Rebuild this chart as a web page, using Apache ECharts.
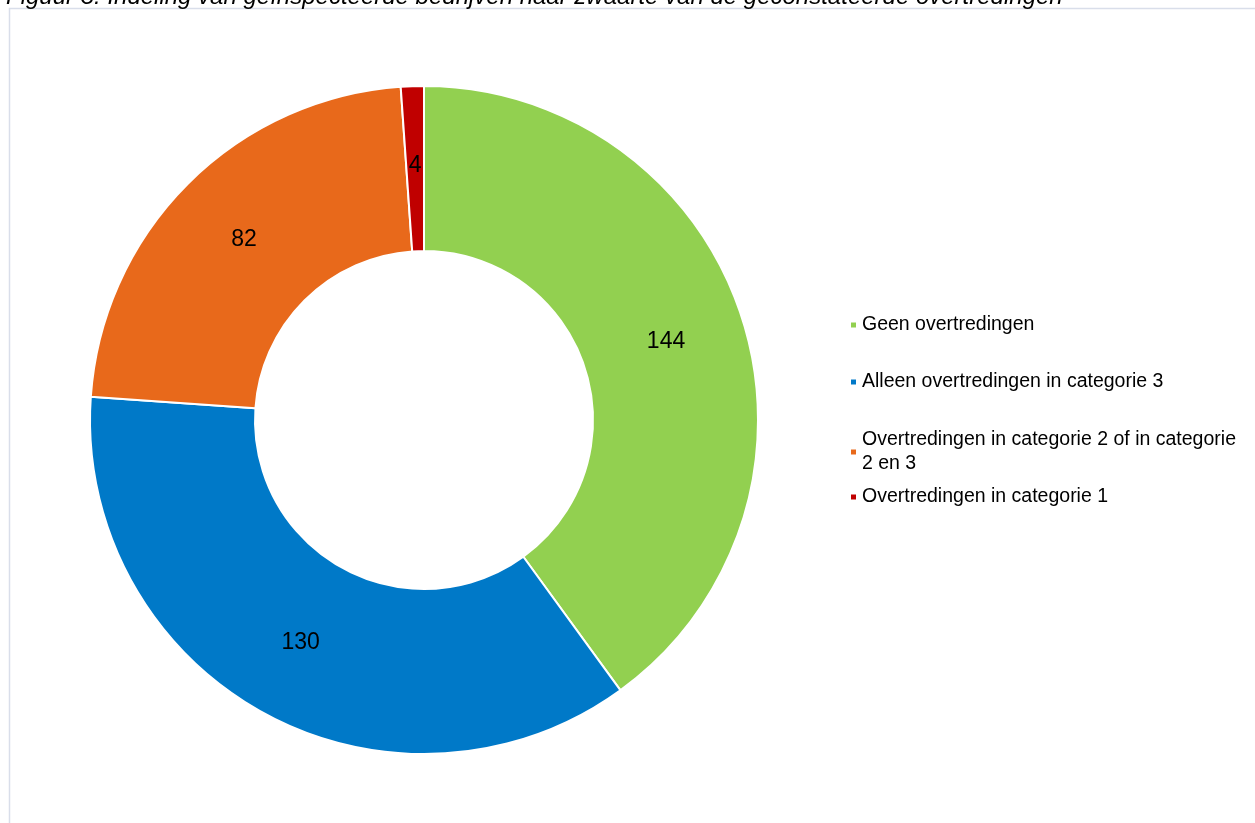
<!DOCTYPE html>
<html>
<head>
<meta charset="utf-8">
<script src="https://cdn.jsdelivr.net/npm/echarts@6/dist/echarts.min.js"></script>
<style>
  html, body { margin: 0; padding: 0; background: #fff; }
  #main { width: 1255px; height: 823px; }
</style>
</head>
<body>
<div id="main"></div>
<script>
// categories and values (degrees add up to 360)
const categories = [
  'Geen overtredingen',
  'Alleen overtredingen in categorie 3',
  'Overtredingen in categorie 2 of in categorie 2 en 3',
  'Overtredingen in categorie 1'
]
const values = [144, 130, 82, 4]
const colors = ['#92D050', '#0079C8', '#E8691B', '#C00000']
const legendTops = [308, 365, 423, 480]

const chart = echarts.init(document.getElementById('main'))

const font = 'Arial, "Liberation Sans", sans-serif'

chart.setOption({
  animation: false,
  color: colors,
  graphic: [
    {
      type: 'rect',
      shape: { x: 9.5, y: 8.5, width: 1260, height: 830 },
      style: { fill: 'none', stroke: '#D9DEEA', lineWidth: 1.5 }
    },
    {
      // title, clipped at the top edge like in the source
      type: 'text',
      style: {
        x: 6,
        y: -15,
        text: 'Figuur 3: Indeling van geïnspecteerde bedrijven naar zwaarte van de geconstateerde overtredingen',
        font: 'italic 24px ' + font,
        fill: '#000'
      }
    }
  ],
  legend: categories.map((name, i) => ({
    data: [name],
    orient: 'vertical',
    left: 844,
    top: legendTops[i],
    icon: 'rect',
    itemWidth: 7,
    itemHeight: 7,
    itemGap: 6,
    selectedMode: false,
    formatter: n => n === categories[2]
      ? 'Overtredingen in categorie 2 of in categorie\n2 en 3'
      : n,
    textStyle: {
      fontFamily: font,
      fontSize: 19.5,
      color: '#000',
      lineHeight: 24
    }
  })),
  series: [{
    type: 'pie',
    center: [424, 420],
    radius: [169, 334],
    startAngle: 90,
    clockwise: true,
    label: {
      show: true,
      position: 'inside',
      formatter: '{c}',
      fontFamily: font,
      fontSize: 23,
      color: '#000'
    },
    labelLine: { show: false },
    itemStyle: {
      borderColor: '#fff',
      borderWidth: 2
    },
    emphasis: { disabled: true },
    data: categories.map((name, i) => ({ name: name, value: values[i] }))
  }]
})
</script>
</body>
</html>
